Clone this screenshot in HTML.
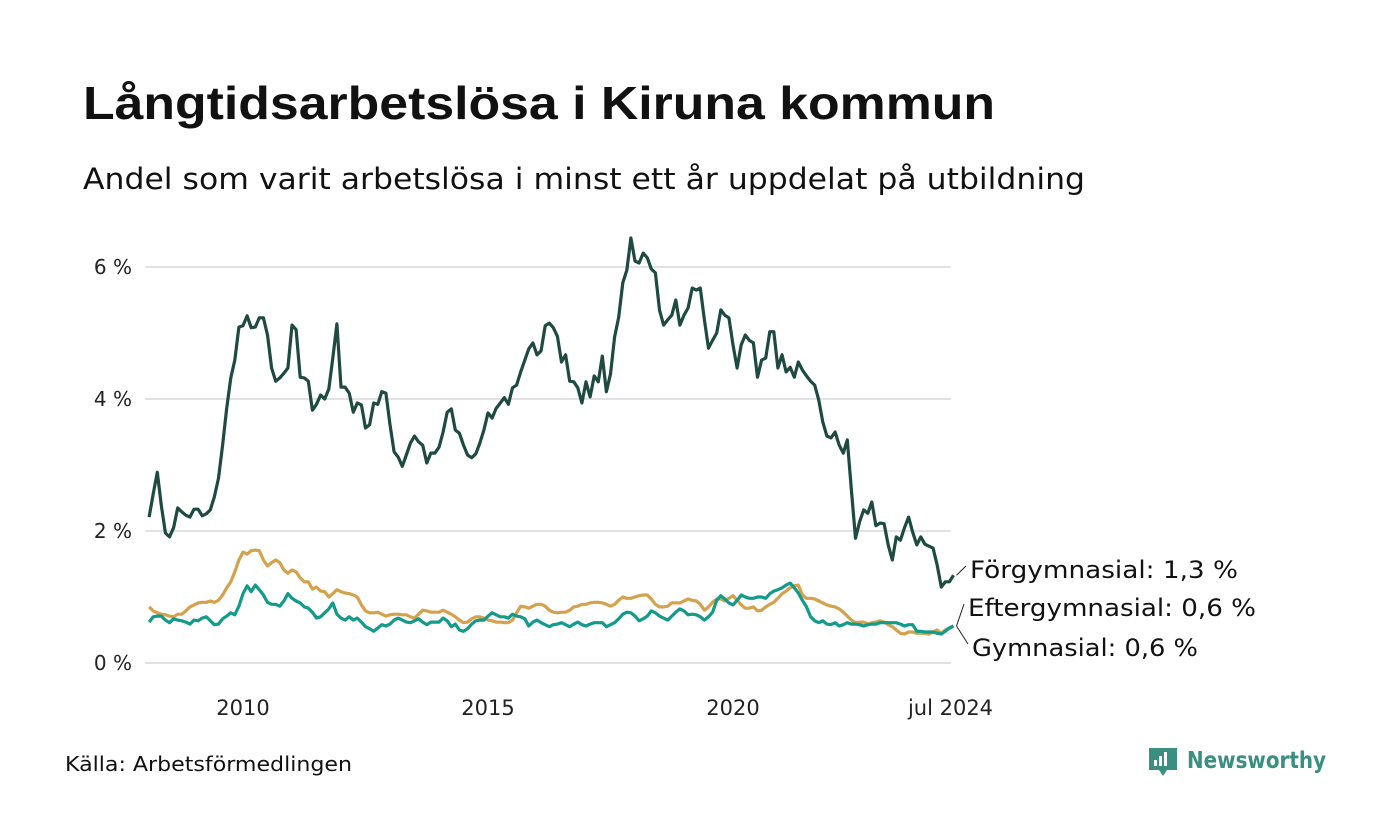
<!DOCTYPE html>
<html><head><meta charset="utf-8"><style>
body{margin:0;background:#fff;}
svg{display:block;font-family:"DejaVu Sans","Liberation Sans",sans-serif;}
</style></head><body>
<svg id="chart" width="1400" height="840" viewBox="0 0 1400 840">
<text x="83" y="119" font-size="46" font-weight="bold" fill="#111" font-family="Liberation Sans, sans-serif" textLength="912" lengthAdjust="spacingAndGlyphs">Långtidsarbetslösa i Kiruna kommun</text>
<text x="83" y="189" font-size="29" fill="#111" textLength="1002" lengthAdjust="spacingAndGlyphs">Andel som varit arbetslösa i minst ett år uppdelat på utbildning</text>
<g id="grid"></g>
<g id="yticks"></g>
<g id="xticks"></g>
<g id="series"></g>
<g id="labels"></g>
<text x="65" y="771" font-size="20" fill="#111" textLength="287" lengthAdjust="spacingAndGlyphs">Källa: Arbetsförmedlingen</text>
<g>
<path d="M1149 748h28v22h-10l-4 6-4-6h-10z" fill="#3a8f80"/>
<rect x="1154" y="760" width="3" height="6" fill="#fff"/><rect x="1159" y="756" width="3" height="10" fill="#fff"/><rect x="1164" y="752" width="3" height="14" fill="#fff"/>
<text x="1187" y="768" font-size="23" font-weight="bold" fill="#3a8f80" textLength="139" lengthAdjust="spacingAndGlyphs">Newsworthy</text>
</g>
</svg>
<script>
const yTicks=[0,2,4,6];
const yTickLabels=["0 %","2 %","4 %","6 %"];
const xTickDates=[2010,2015,2020,2024.5];
const xTickLabels=["2010","2015","2020","jul 2024"];
const startYear=2008, startMonth=1; // Feb 2008 (0-based month)
const forgymnasial=[2.21,2.56,2.89,2.39,1.97,1.91,2.05,2.35,2.29,2.24,2.21,2.33,2.33,2.23,2.26,2.32,2.52,2.80,3.30,3.86,4.32,4.59,5.09,5.11,5.26,5.08,5.09,5.23,5.23,4.97,4.47,4.27,4.32,4.39,4.47,5.12,5.05,4.33,4.32,4.27,3.83,3.92,4.06,4.00,4.15,4.62,5.14,4.18,4.18,4.09,3.80,3.94,3.91,3.56,3.61,3.94,3.92,4.11,4.09,3.61,3.20,3.12,2.98,3.15,3.33,3.44,3.35,3.30,3.03,3.18,3.18,3.27,3.50,3.80,3.85,3.53,3.48,3.30,3.15,3.11,3.17,3.33,3.53,3.79,3.71,3.86,3.94,4.02,3.92,4.17,4.21,4.41,4.59,4.76,4.85,4.67,4.73,5.11,5.15,5.08,4.95,4.56,4.67,4.27,4.26,4.17,3.94,4.26,4.03,4.35,4.26,4.65,4.11,4.38,4.94,5.24,5.76,5.95,6.44,6.09,6.06,6.21,6.14,5.97,5.91,5.35,5.12,5.20,5.27,5.50,5.12,5.27,5.38,5.68,5.65,5.68,5.20,4.77,4.89,5.00,5.35,5.27,5.23,4.82,4.47,4.82,4.97,4.89,4.85,4.33,4.59,4.62,5.02,5.02,4.47,4.67,4.41,4.48,4.33,4.56,4.44,4.35,4.27,4.21,3.98,3.65,3.44,3.41,3.50,3.30,3.18,3.38,2.62,1.89,2.14,2.32,2.27,2.44,2.08,2.12,2.11,1.79,1.56,1.91,1.86,2.05,2.21,1.98,1.79,1.91,1.80,1.77,1.74,1.48,1.15,1.23,1.23,1.33];
const eftergymnasial=[.85,.79,.76,.74,.73,.71,.70,.74,.74,.79,.85,.88,.91,.92,.92,.94,.92,.95,1.03,1.14,1.23,1.38,1.56,1.68,1.65,1.70,1.71,1.70,1.56,1.47,1.52,1.56,1.52,1.41,1.36,1.41,1.38,1.29,1.23,1.23,1.12,1.15,1.09,1.08,1.00,1.05,1.11,1.08,1.06,1.05,1.03,1.00,.88,.79,.76,.76,.77,.74,.71,.73,.74,.74,.73,.73,.70,.68,.74,.80,.79,.77,.77,.77,.80,.77,.74,.70,.65,.61,.62,.67,.70,.70,.68,.65,.64,.62,.62,.61,.61,.65,.76,.86,.85,.83,.86,.89,.89,.86,.80,.77,.76,.77,.77,.80,.85,.86,.89,.89,.91,.92,.92,.91,.89,.86,.89,.95,1.00,.98,.98,1.00,1.02,1.03,1.03,.97,.89,.85,.85,.86,.91,.91,.91,.94,.97,.95,.94,.89,.80,.85,.92,.97,.97,.94,.98,1.02,.95,.88,.83,.83,.85,.79,.80,.85,.89,.92,.98,1.05,1.09,1.14,1.17,1.18,1.03,.98,.98,.97,.94,.91,.88,.86,.85,.82,.77,.71,.65,.61,.62,.62,.59,.61,.62,.64,.62,.58,.55,.50,.45,.44,.47,.47,.45,.45,.45,.44,.47,.50,.45,.50,.53,.56];
const gymnasial=[.62,.70,.71,.71,.65,.61,.67,.65,.64,.62,.59,.65,.64,.68,.70,.64,.58,.59,.67,.71,.76,.73,.86,1.05,1.17,1.08,1.18,1.11,1.03,.92,.89,.89,.86,.94,1.05,.98,.94,.91,.85,.83,.77,.68,.70,.76,.82,.91,.74,.68,.65,.70,.65,.68,.62,.55,.52,.48,.53,.58,.56,.59,.65,.68,.65,.62,.61,.64,.67,.62,.58,.62,.62,.62,.68,.64,.55,.59,.50,.48,.52,.59,.64,.65,.65,.71,.76,.73,.70,.70,.68,.74,.71,.70,.67,.56,.62,.65,.61,.58,.55,.58,.59,.61,.58,.55,.59,.62,.58,.56,.59,.61,.61,.61,.55,.58,.61,.67,.74,.77,.76,.71,.64,.67,.71,.79,.76,.71,.68,.65,.71,.77,.82,.79,.73,.74,.73,.70,.65,.70,.77,.95,1.02,.97,.91,.88,.95,1.03,1.00,.98,.98,1.00,1.00,.98,1.05,1.09,1.11,1.14,1.18,1.21,1.14,1.06,.95,.85,.70,.64,.61,.64,.59,.58,.61,.56,.58,.61,.59,.59,.58,.56,.58,.59,.59,.61,.61,.61,.61,.61,.59,.56,.58,.58,.48,.48,.47,.47,.47,.45,.44,.48,.53,.56];
const seriesNames=["Eftergymnasial","Gymnasial","Förgymnasial"];
const seriesColors=["#d4a24c","#129a8a","#1e4a42"];
const endLabels=["Förgymnasial: 1,3 %","Eftergymnasial: 0,6 %","Gymnasial: 0,6 %"];

const NS="http://www.w3.org/2000/svg";
function yScale(v){return 663-v*66;}
function xScaleYear(y){return 243+(y-2010)*49;}
function xIdx(i){const m=startMonth+i;return xScaleYear(startYear+m/12);}
function mk(tag,attrs,parent){const e=document.createElementNS(NS,tag);for(const k in attrs)e.setAttribute(k,attrs[k]);parent.appendChild(e);return e;}

const grid=document.getElementById('grid'),yt=document.getElementById('yticks'),xt=document.getElementById('xticks');
yTicks.forEach((t,k)=>{
  const l=mk('line',{x1:145,x2:951,y1:yScale(t),y2:yScale(t),stroke:'#e1e1e6','stroke-width':2},grid);
  
  
  const tx=mk('text',{x:132,y:yScale(t)+7,'font-size':20,fill:'#222','text-anchor':'end'},yt);
  tx.textContent=yTickLabels[k];
  
  
});
xTickDates.forEach((d,k)=>{
  const tx=mk('text',{x:xScaleYear(d)-(k===3?3:0),y:715,'font-size':21,fill:'#222','text-anchor':'middle'},xt);
  tx.textContent=xTickLabels[k];
  
  
});
const sg=document.getElementById('series');
[eftergymnasial,gymnasial,forgymnasial].forEach((arr,s)=>{
  const pts=arr.map((v,i)=>xIdx(i).toFixed(1)+','+yScale(v).toFixed(1)).join(' ');
  const p=mk('polyline',{points:pts,fill:'none',stroke:seriesColors[s],'stroke-width':3.2,'stroke-linejoin':'round'},sg);
  
  
});
const lg=document.getElementById('labels');
const n=forgymnasial.length-1, xe=xIdx(n);
const lastVals=[forgymnasial[n],eftergymnasial[n],gymnasial[n]];
const labY=[570,608,648],labX=[970,968,972],labW=[268,288,226];
lastVals.forEach((v,k)=>{
  const c=mk('line',{x1:xe+3,y1:yScale(v),x2:labX[k]-4,y2:labY[k]-4,stroke:'#222','stroke-width':1},lg);
  
  
  const t=mk('text',{x:labX[k],y:labY[k]+8,'font-size':24,fill:'#111',textLength:labW[k],lengthAdjust:'spacingAndGlyphs'},lg);
  t.textContent=endLabels[k];
  
  
});
</script>
</body></html>
